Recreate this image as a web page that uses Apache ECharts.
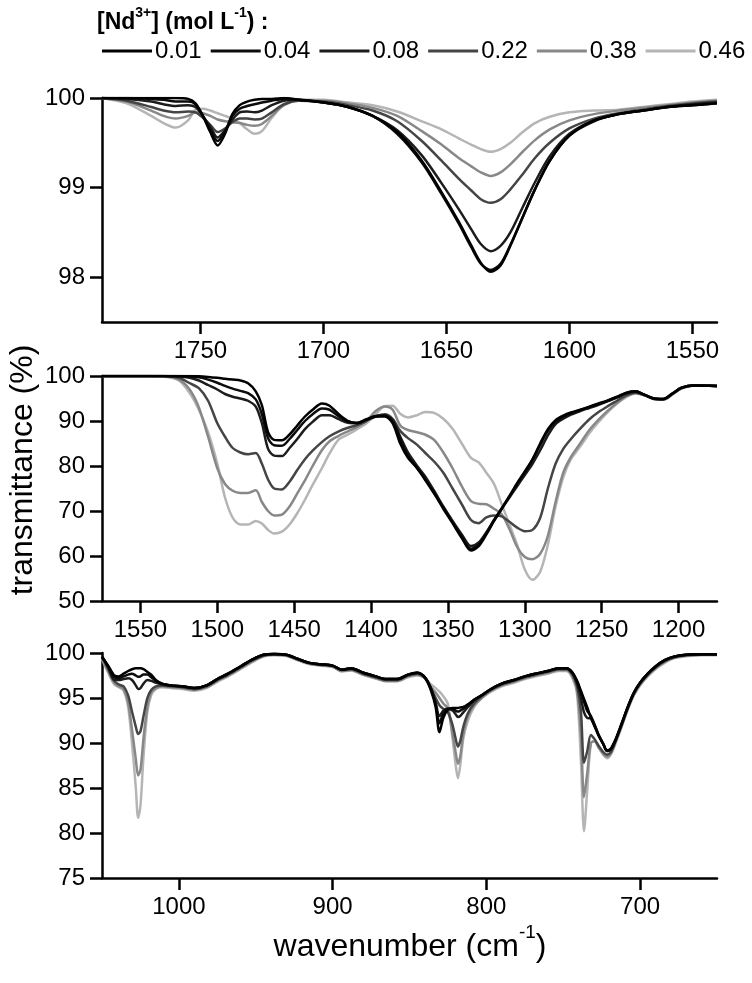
<!DOCTYPE html>
<html>
<head>
<meta charset="utf-8">
<script src="https://cdn.jsdelivr.net/npm/echarts@6/dist/echarts.min.js"></script>
<style>
html,body{margin:0;padding:0;background:#fff;}
#chart{width:752px;height:983px;}
</style>
</head>
<body>
<div id="chart"></div>
<script>
// ---------- DATA ----------
var concentrations = ['0.01', '0.04', '0.08', '0.22', '0.38', '0.46'];

// Panel 1 (1790-1540 cm-1)
var wn1 = [1790,1780,1770,1765,1760, 1755,1752,1749,1746,1743, 1740,1737,1734,1731,1728, 1725,1721,1716,1710,1700, 1690,1680,1670,1660,1652, 1645,1640,1636,1632,1628, 1624,1619,1614,1608,1600, 1590,1580,1570,1560,1550, 1540];
var p1_001 = [100,100,100,100,100, 99.99,99.94,99.8,99.62,99.47, 99.6,99.82,99.92,99.96,99.98, 99.99,99.99,100,99.98,99.95, 99.9,99.8,99.62,99.3,98.95, 98.62,98.36,98.16,98.06,98.13, 98.35,98.67,98.98,99.3,99.58, 99.75,99.82,99.86,99.9,99.92, 99.94];
var p1_004 = [100,100,99.99,99.98,99.96, 99.96,99.93,99.8,99.65,99.52, 99.63,99.8,99.88,99.91,99.93, 99.95,99.97,99.99,99.98,99.95, 99.9,99.8,99.6,99.28,98.93, 98.6,98.34,98.15,98.08,98.15, 98.36,98.67,98.98,99.3,99.58, 99.74,99.82,99.86,99.9,99.92, 99.94];
var p1_008 = [100,99.99,99.96,99.93,99.91, 99.92,99.9,99.8,99.68,99.56, 99.64,99.76,99.84,99.85,99.84, 99.86,99.92,99.97,99.98,99.95, 99.9,99.8,99.64,99.36,99.05, 98.76,98.54,98.37,98.29,98.35, 98.5,98.78,99.06,99.35,99.6, 99.75,99.82,99.86,99.9,99.93, 99.95];
var p1_022 = [100,99.97,99.9,99.86,99.84, 99.85,99.84,99.78,99.7,99.62, 99.66,99.73,99.77,99.77,99.76, 99.77,99.84,99.93,99.97,99.96, 99.92,99.86,99.74,99.52,99.3, 99.1,98.97,98.87,98.83,98.87, 98.98,99.15,99.33,99.5,99.66, 99.77,99.83,99.87,99.91,99.94, 99.96];
var p1_038 = [100,99.96,99.86,99.8,99.77, 99.8,99.84,99.83,99.8,99.76, 99.74,99.73,99.72,99.7,99.69, 99.71,99.8,99.92,99.97,99.97, 99.94,99.89,99.8,99.63,99.48, 99.33,99.24,99.17,99.13,99.17, 99.26,99.4,99.53,99.65,99.75, 99.82,99.86,99.89,99.92,99.95, 99.97];
var p1_046 = [100,99.94,99.8,99.72,99.67, 99.75,99.87,99.88,99.86,99.83, 99.8,99.77,99.72,99.65,99.6, 99.63,99.78,99.93,99.98,99.98, 99.95,99.92,99.85,99.74,99.65, 99.55,99.48,99.43,99.4,99.43, 99.5,99.62,99.72,99.79,99.84, 99.86,99.87,99.9,99.93,99.96, 99.98];

// Panel 2 (1575-1175 cm-1)
var wn2 = [1575,1560,1545,1535,1525, 1518,1512,1506,1500,1495, 1490,1485,1480,1475,1471, 1467,1463,1458,1453,1448, 1443,1438,1432,1427,1421, 1415,1409,1403,1397,1391, 1386,1381,1376,1370,1365, 1359,1353,1347,1341,1335, 1330,1325,1320,1315,1310, 1305,1300,1295,1290,1285, 1280,1275,1270,1264,1258, 1252,1246,1240,1234,1228, 1222,1216,1210,1204,1198, 1190,1175];
var p2_001 = [100,100,100,100,100, 100,99.95,99.8,99.6,99.4, 99.2,99.0,98.4,96.6,93.5, 87.5,85.8,85.7,87.0,89.0, 91.0,92.5,93.9,93.4,91.5, 90.0,89.5,90.3,91.0,91.0, 89.5,85.0,81.8,79.5,77.0, 73.9,70.5,67.3,64.0,61.2, 62.2,64.8,67.8,70.5,73.3, 76.2,78.8,81.5,85.0,88.2, 90.2,91.2,91.9,92.5,93.2, 93.9,94.6,95.4,96.3,96.6, 95.8,95.0,94.9,96.1,97.4, 97.9,97.8];
var p2_004 = [100,100,100,100,100, 99.9,99.7,99.2,98.5,97.8, 97.2,96.7,96.2,94.8,91.5, 86.2,84.6,84.5,86.0,88.0, 90.0,91.5,92.8,92.5,91.0, 89.9,89.6,90.4,91.1,91.2, 90.0,86.0,82.3,79.5,77.2, 74.0,70.8,67.5,64.3,61.6, 62.5,65.0,68.0,70.6,73.3, 76.0,78.6,81.4,84.7,87.8, 89.8,90.9,91.7,92.4,93.1, 93.8,94.5,95.3,96.2,96.6, 95.8,95.0,94.9,96.1,97.4, 97.9,97.8];
var p2_008 = [100,100,100,100,99.9, 99.6,99.0,98.0,97.0,96.0, 95.4,95.0,94.5,93.2,89.5, 83.8,82.3,82.2,84.0,86.0, 88.2,89.8,91.3,91.3,90.4, 89.6,89.5,90.3,91.0,91.2, 90.2,86.5,83.0,80.0,77.8, 74.5,71.0,67.8,64.8,62.2, 63.0,65.3,68.0,70.5,73.0, 75.5,78.0,80.5,83.5,86.8, 89.3,90.5,91.4,92.2,92.9, 93.6,94.4,95.2,96.1,96.5, 95.8,95.0,94.9,96.1,97.4, 97.9,97.8];
var p2_022 = [100,100,100,100,99.6, 98.4,97.3,94.5,89.5,86.5, 84.0,83.0,82.6,82.9,80.5, 77.0,75.0,74.8,76.5,79.1, 81.5,83.4,85.3,86.6,87.7, 88.5,89.1,90.0,91.0,91.5, 90.5,87.8,86.2,84.7,83.0, 81.0,78.5,75.0,71.5,68.0, 67.3,68.6,69.0,68.8,67.6, 66.3,65.5,65.8,68.5,75.0, 80.5,83.8,86.0,88.3,90.4, 92.0,93.3,94.5,95.7,96.3, 95.7,94.9,94.8,96.0,97.3, 97.9,97.8];
var p2_038 = [100,100,100,99.95,99.2, 97.0,93.0,86.5,79.5,76.0, 74.5,74.0,74.0,74.6,72.0, 70.0,69.0,69.2,71.0,73.9, 76.8,80.0,83.5,85.5,86.7, 87.7,88.7,90.0,92.2,93.2, 92.5,89.0,88.0,87.5,87.0, 85.8,83.0,79.5,75.5,72.2, 71.6,71.5,70.5,69.2,66.0, 62.0,59.8,59.3,60.5,64.5, 72.0,78.5,82.0,85.0,88.0, 90.3,92.3,94.0,95.5,96.2, 95.7,94.9,94.7,95.9,97.3, 97.9,97.8];
var p2_046 = [100,100,100,99.9,99.0, 96.2,92.5,87.5,80.5,73.0, 68.5,67.0,67.0,67.8,67.2, 65.8,65.0,65.4,67.0,69.5, 72.5,75.8,79.5,82.8,85.9, 87.0,88.2,89.5,91.5,93.3, 93.4,91.6,90.8,91.3,92.0, 91.8,90.5,88.3,85.0,81.8, 80.8,78.5,76.0,71.5,67.0, 62.5,57.0,54.7,56.5,62.5, 71.0,77.5,81.5,84.3,87.3, 89.8,92.0,93.9,95.3,96.1, 95.7,94.9,94.7,95.9,97.2, 97.9,97.8];

// Panel 3 (1050-650 cm-1)
var wn3 = [1050,1046,1042,1039,1036, 1033,1030.5,1028,1026.5,1025, 1023,1020.5,1018,1015,1011, 1005,998,990,982,975, 968,960,952,945,938, 930,922,915,908,900, 894,888,880,872,865, 858,851,845,840,836, 833,830.5,828,825,822, 820,818.5,817,815,812, 808,803,797,790,782, 775,768,760,753,748, 744,741,738.5,736.5,734.5, 732,729.5,727,724,721.5, 719,716,712,708,704, 700,695,690,684,678, 670,660,650];
var p3_001 = [99.6,98.6,97.5,97.4,97.7, 98.0,98.2,98.3,98.3,98.3, 98.2,97.9,97.6,97.0,96.6, 96.4,96.3,96.1,96.4,97.1, 97.7,98.5,99.3,99.8,99.9, 99.8,99.3,98.9,98.75,98.6, 98.15,98.3,97.8,97.4,97.1, 97.1,97.6,97.8,97.3,95.8, 94.0,91.2,92.8,93.7,93.9, 93.9,93.9,93.95,94.0,94.3, 94.8,95.3,96.0,96.6,97.0, 97.4,97.7,98.0,98.3,98.3, 97.8,96.9,95.8,94.9,94.0, 92.8,91.8,90.8,89.9,89.2, 89.4,90.4,92.2,94.0,95.6, 96.7,97.7,98.5,99.2,99.6, 99.8,99.85,99.85];
var p3_004 = [99.6,98.5,97.3,97.2,97.4, 97.6,97.7,97.5,97.35,97.4, 97.6,97.6,97.3,96.9,96.6, 96.4,96.3,96.1,96.4,97.1, 97.7,98.5,99.3,99.8,99.9, 99.8,99.3,98.9,98.75,98.6, 98.15,98.3,97.8,97.4,97.1, 97.1,97.6,97.8,97.3,96.0, 94.3,92.2,93.3,93.8,93.8, 93.6,93.5,93.6,93.8,94.2, 94.8,95.3,96.0,96.6,97.0, 97.4,97.7,98.0,98.3,98.3, 97.8,96.8,95.6,94.6,93.6, 93.0,92.0,90.9,89.9,89.1, 89.3,90.3,92.1,94.0,95.6, 96.7,97.7,98.5,99.2,99.6, 99.8,99.85,99.85];
var p3_008 = [99.6,98.4,97.0,97.0,97.1, 97.2,97.0,96.4,96.0,96.1, 96.6,97.0,96.9,96.7,96.5, 96.4,96.3,96.1,96.4,97.1, 97.7,98.5,99.3,99.8,99.9, 99.8,99.3,98.9,98.75,98.6, 98.15,98.3,97.8,97.4,97.1, 97.1,97.6,97.8,97.3,96.1, 94.5,93.0,93.6,93.8,93.6, 93.2,92.9,93.0,93.4,94.0, 94.7,95.3,96.0,96.6,97.0, 97.4,97.7,98.0,98.3,98.3, 97.8,96.6,95.0,93.4,92.8, 92.7,91.9,90.9,89.9,89.1, 89.3,90.3,92.1,94.0,95.6, 96.7,97.7,98.5,99.2,99.6, 99.8,99.85,99.85];
var p3_022 = [99.5,98.3,96.9,96.5,96.3, 95.3,93.5,91.8,91.0,91.3, 93.0,95.0,95.9,96.3,96.4, 96.3,96.2,96.0,96.3,97.0, 97.6,98.4,99.2,99.7,99.85, 99.75,99.25,98.85,98.7,98.55, 98.1,98.2,97.7,97.3,97.0, 97.0,97.5,97.7,97.2,96.0, 95.0,94.2,93.8,93.4,92.0, 90.5,89.6,90.2,91.8,93.3, 94.4,95.2,95.9,96.5,96.9, 97.3,97.6,97.9,98.2,98.2, 97.6,96.3,93.5,87.8,89.0, 90.9,90.4,89.7,89.0,88.7, 89.0,90.2,92.0,93.9,95.5, 96.6,97.6,98.4,99.1,99.5, 99.75,99.8,99.8];
var p3_038 = [99.4,98.0,96.7,96.3,96.0, 94.5,91.5,88.2,86.4,87.0, 90.5,94.0,95.6,96.1,96.3, 96.2,96.1,95.9,96.2,96.9, 97.5,98.3,99.1,99.65,99.8, 99.7,99.2,98.8,98.65,98.5, 98.0,98.1,97.6,97.2,96.9, 96.9,97.4,97.6,97.2,96.2, 95.6,95.0,94.4,93.8,91.0, 89.0,87.7,88.5,91.0,93.0, 94.2,95.0,95.8,96.4,96.8, 97.2,97.5,97.8,98.1,98.1, 97.4,95.8,91.0,84.0,86.5, 90.0,90.2,89.5,88.8,88.5, 88.9,90.1,91.9,93.8,95.4, 96.5,97.5,98.3,99.0,99.5, 99.7,99.8,99.8];
var p3_046 = [99.3,97.8,96.5,96.2,95.8, 94.0,90.0,85.0,81.7,83.0, 88.5,93.5,95.3,96.0,96.2, 96.1,96.0,95.8,96.1,96.8, 97.4,98.2,99.0,99.6,99.75, 99.65,99.15,98.75,98.6,98.45, 97.95,98.05,97.55,97.15,96.85, 96.85,97.3,97.5,97.2,96.5, 96.1,95.7,95.2,94.3,90.5, 87.6,86.1,87.5,90.5,92.5, 94.0,95.0,95.7,96.3,96.7, 97.1,97.4,97.7,98.0,98.0, 97.2,95.4,88.0,80.2,84.5, 90.0,90.2,89.5,88.7,88.3, 88.7,89.9,91.8,93.7,95.3, 96.4,97.4,98.2,98.9,99.4, 99.65,99.75,99.75];

// tick labels
var xTicks1 = [1550, 1600, 1650, 1700, 1750];
var xTicks2 = [1200, 1250, 1300, 1350, 1400, 1450, 1500, 1550];
var xTicks3 = [700, 800, 900, 1000];
var yTicks1 = [98, 99, 100];

// ---------- STYLE ----------
var colors = {'0.01':'#000000','0.04':'#0c0c0c','0.08':'#1c1c1c','0.22':'#454545','0.38':'#888888','0.46':'#b5b5b5'};
var FONT = 'Liberation Sans, Arial, sans-serif';

var panels = [
  {wn: wn1, ys: {'0.01':p1_001,'0.04':p1_004,'0.08':p1_008,'0.22':p1_022,'0.38':p1_038,'0.46':p1_046}},
  {wn: wn2, ys: {'0.01':p2_001,'0.04':p2_004,'0.08':p2_008,'0.22':p2_022,'0.38':p2_038,'0.46':p2_046}},
  {wn: wn3, ys: {'0.01':p3_001,'0.04':p3_004,'0.08':p3_008,'0.22':p3_022,'0.38':p3_038,'0.46':p3_046}}
];

function zip(xs, ys){ return xs.map(function(x,i){ return [x, ys[i]]; }); }
function plain(v){ return String(v); }

var axisLineStyle = {color:'#000', width:2.5};
function xAxisCfg(gi, min, max, ticks){
  return {type:'value', gridIndex:gi, inverse:true, min:min, max:max,
    axisLine:{show:true, onZero:false, lineStyle:axisLineStyle},
    axisTick:{show:true, inside:false, length:12, lineStyle:axisLineStyle, customValues:ticks},
    axisLabel:{show:true, customValues:ticks, formatter:plain, fontSize:24, color:'#000', fontFamily:FONT, margin:17},
    splitLine:{show:false}};
}
function yAxisCfg(gi, min, max, interval, ticks){
  var c = {type:'value', gridIndex:gi, min:min, max:max,
    axisLine:{show:true, onZero:false, lineStyle:axisLineStyle},
    axisTick:{show:true, inside:false, length:12, lineStyle:axisLineStyle},
    axisLabel:{show:true, formatter:plain, fontSize:24, color:'#000', fontFamily:FONT, margin:17, showMinLabel:true, showMaxLabel:true},
    splitLine:{show:false}};
  if (interval) c.interval = interval;
  if (ticks) { c.axisTick.customValues = ticks; c.axisLabel.customValues = ticks; }
  return c;
}

var series = [];
var drawOrder = ['0.46','0.38','0.22','0.08','0.04','0.01'];
panels.forEach(function(p, gi){
  drawOrder.forEach(function(c){
    series.push({type:'line', name:c, xAxisIndex:gi, yAxisIndex:gi,
      data: zip(p.wn, p.ys[c]), symbol:'none', showSymbol:false, smooth:0.3,
      lineStyle:{color:colors[c], width:2.5}, itemStyle:{color:colors[c]},
      clip:true, silent:true});
  });
});

var option = {
  animation:false,
  backgroundColor:'#fff',
  grid:[
    {left:102, top:98, width:615, height:224},
    {left:102, top:376, width:615, height:225},
    {left:102, top:653, width:615, height:225}
  ],
  xAxis:[
    xAxisCfg(0, 1540, 1790, xTicks1),
    xAxisCfg(1, 1175, 1575, xTicks2),
    xAxisCfg(2, 650, 1050, xTicks3)
  ],
  yAxis:[
    yAxisCfg(0, 97.5, 100, null, yTicks1),
    yAxisCfg(1, 50, 100, 10, null),
    yAxisCfg(2, 75, 100, 5, null)
  ],
  legend:{
    data: concentrations.map(function(c){ return {name:c, icon:'rect'}; }),
    left:97, top:34, orient:'horizontal',
    itemWidth:50, itemHeight:3, itemGap:9,
    textStyle:{fontSize:24, color:'#000', fontFamily:FONT, padding:[0,0,0,-2]},
    selectedMode:false
  },
  graphic:[
    {type:'text', left:97, top:6, style:{
      text:'{b|[Nd}{s|3+}{b|] (mol L}{s|-1}{b|) :}',
      rich:{
        b:{fontSize:23, fontWeight:'bold', fontFamily:FONT, fill:'#000', verticalAlign:'bottom', lineHeight:28},
        s:{fontSize:14, fontWeight:'bold', fontFamily:FONT, fill:'#000', verticalAlign:'top', lineHeight:28, padding:[0,0,10,0]}
      }}},
    {type:'text', x:410, y:943, style:{
      text:'{m|wavenumber (cm}{s|-1}{m|)}', align:'center', verticalAlign:'middle',
      rich:{
        m:{fontSize:32, fontFamily:FONT, fill:'#000', verticalAlign:'bottom', lineHeight:40},
        s:{fontSize:19, fontFamily:FONT, fill:'#000', verticalAlign:'top', lineHeight:40, padding:[0,0,16,0]}
      }}},
    {type:'text', x:23, y:470, rotation:Math.PI/2, style:{
      text:'transmittance (%)', align:'center', verticalAlign:'middle',
      fontSize:32, fontFamily:FONT, fill:'#000'}}
  ],
  series: series
};

var chart = echarts.init(document.getElementById('chart'), null, {renderer:'canvas'});
chart.setOption(option);
</script>
</body>
</html>
